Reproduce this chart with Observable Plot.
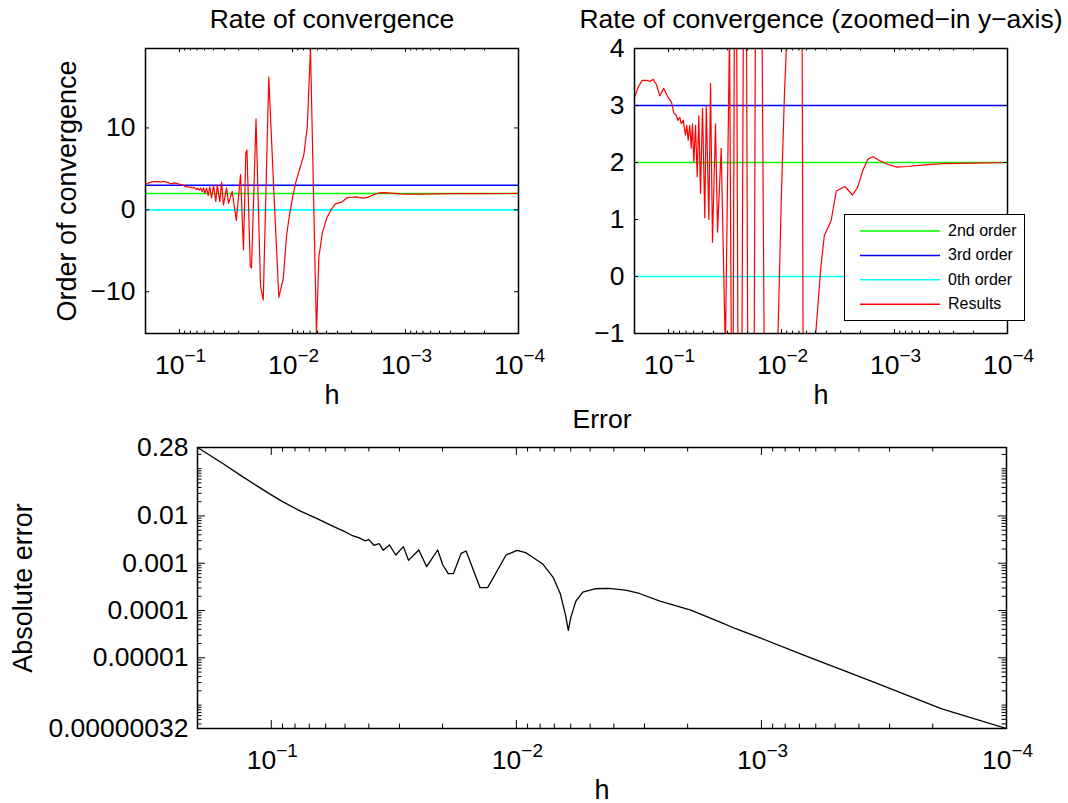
<!DOCTYPE html>
<html>
<head>
<meta charset="utf-8">
<script src="https://cdn.jsdelivr.net/npm/d3@7"></script>
<script src="https://cdn.jsdelivr.net/npm/@observablehq/plot@0.6"></script>
<style>
  body { margin: 0; background: #fff; }
  #fig { position: relative; width: 1068px; height: 803px; background: #fff; font-family: "Liberation Sans", Arial, Helvetica, sans-serif; color: #000; overflow: hidden; }
  #fig > svg { position: absolute; left: 0; top: 0; }
  .legend { position: absolute; border: 1.5px solid #000; background: #fff; box-sizing: border-box; }
  .legend svg { position: absolute; left: 0; top: 0; }
  .legend .tx { position: absolute; left: 103px; font-size: 16px; line-height: 20px; white-space: nowrap; }
</style>
</head>
<body>
<div id="fig"></div>
<script>
// ---------------- data ----------------
// step size h is stored as log10(h); error as log10(|error|)
const orderLogH = [-0.699,-0.734,-0.767,-0.811,-0.834,-0.865,-0.894,-0.923,-0.958,-0.994,
  -1.026,-1.047,-1.071,-1.082,-1.100,-1.112,-1.130,-1.150,-1.162,-1.174,
  -1.188,-1.201,-1.212,-1.224,-1.239,-1.254,-1.268,-1.283,-1.301,-1.321,
  -1.334,-1.357,-1.372,-1.389,-1.416,-1.434,-1.466,-1.503,-1.540,-1.566,
  -1.587,-1.597,-1.626,-1.637,-1.677,-1.717,-1.741,-1.790,-1.834,-1.879,
  -1.918,-1.947,-1.969,-2.000,-2.026,-2.049,-2.100,-2.130,-2.159,-2.212,
  -2.233,-2.263,-2.303,-2.348,-2.379,-2.439,-2.485,-2.522,-2.561,-2.597,
  -2.628,-2.673,-2.719,-2.765,-2.810,-2.871,-2.947,-3.022,-3.113,-3.265,
  -3.416,-3.717,-4.000];
const orderValue = [3.15,3.33,3.44,3.44,3.42,3.46,3.36,3.17,3.30,3.15,
  3.06,2.87,2.82,2.74,2.79,2.68,2.74,2.48,2.65,2.39,
  2.65,2.25,2.68,2.01,2.65,1.75,2.82,1.46,2.95,1.03,
  2.99,1.00,3.39,0.60,2.68,0.78,2.25,-1.30,4.30,-4.90,
  7.00,7.30,-6.90,-7.10,11.10,-9.30,-11.00,16.20,2.50,-10.70,
  -8.40,-3.20,-1.00,1.50,3.20,4.30,6.70,10.00,19.70,-15.10,
  -5.80,-2.90,-1.00,0.16,0.72,0.98,1.50,1.54,1.58,1.50,
  1.43,1.56,1.86,2.06,2.10,2.03,1.96,1.92,1.93,1.96,
  1.98,1.99,2.00];

const errorLogH = [-0.699,-0.807,-0.878,-0.948,-1.000,-1.046,-1.117,-1.187,-1.257,-1.300,
  -1.328,-1.356,-1.384,-1.398,-1.419,-1.440,-1.457,-1.482,-1.508,-1.539,
  -1.560,-1.602,-1.634,-1.679,-1.700,-1.722,-1.743,-1.775,-1.795,-1.852,
  -1.883,-1.958,-2.003,-2.038,-2.053,-2.109,-2.151,-2.180,-2.200,-2.212,
  -2.222,-2.243,-2.271,-2.320,-2.376,-2.446,-2.502,-2.586,-2.712,-2.839,
  -2.895,-3.000,-3.175,-3.456,-3.736,-4.000];
const errorLogValue = [-0.553,-0.906,-1.153,-1.386,-1.555,-1.697,-1.894,-2.056,-2.233,-2.332,
  -2.409,-2.459,-2.529,-2.501,-2.621,-2.586,-2.727,-2.614,-2.826,-2.649,
  -2.939,-2.720,-3.073,-2.720,-3.037,-3.221,-3.221,-2.790,-2.741,-3.517,
  -3.517,-2.826,-2.727,-2.776,-2.826,-3.023,-3.306,-3.658,-4.080,-4.420,
  -4.150,-3.800,-3.610,-3.540,-3.530,-3.570,-3.640,-3.800,-3.990,-4.260,
  -4.385,-4.590,-4.950,-5.510,-6.080,-6.495];

const refOrders = [2, 3, 0];
const refColors = ["#00ff00", "#0000ff", "#00ffff"];
const resultColor = "#ff0000";
const legendLabels = ["2nd order", "3rd order", "0th order", "Results"];

const hDomain = [0.2, 1e-4];
const hMajor = [1e-1, 1e-2, 1e-3, 1e-4];
const orderTicksFull = [-10, 0, 10];
const orderDomainFull = [-15.1, 19.7];
const orderTicksZoom = [-1, 0, 1, 2, 3, 4];
const orderDomainZoom = [-1, 4];
const errTicks = [3.2e-7, 1e-5, 1e-4, 1e-3, 1e-2, 0.28];
const errTickLabels = ["0.00000032", "0.00001", "0.0001", "0.001", "0.01", "0.28"];
const errDomain = [3.2e-7, 0.28];

// ---------------- tables ----------------
const results = orderLogH.map((e, i) => ({h: 10 ** e, p: orderValue[i]}));
const errors = errorLogH.map((e, i) => ({h: 10 ** e, err: 10 ** errorLogValue[i]}));

const hMinor = [];
for (let e = -4; e <= -1; e++) for (let m = 2; m <= 9; m++) {
  const v = m * 10 ** e;
  if (v < 0.2 * 0.999) hMinor.push(v);
}
const errMinor = [];
for (let e = -7; e <= -1; e++) for (let m = 1; m <= 9; m++) {
  const v = m * 10 ** e;
  if (v > errDomain[0] * 1.001 && v < errDomain[1] * 0.999 && !errTicks.some(t => Math.abs(t - v) / v < 1e-6)) errMinor.push(v);
}

// ---------------- helpers ----------------
const W = 1068, H = 803;
const FONT = "'Liberation Sans', Arial, Helvetica, sans-serif";
const TICK_FS = 26.5, LABEL_FS = 27, TITLE_FS = 26.5, EXP_FS = 19;
const fig = document.getElementById("fig");
const ink = {stroke: "black", strokeWidth: 1};

function ticks({xMajor, xMinor, yMajor, yMinor, fw, fh, major, minor}) {
  const m = [
    Plot.tickX(xMajor, {x: d => d, insetTop: fh - major, ...ink}),
    Plot.tickX(xMajor, {x: d => d, insetBottom: fh - major, ...ink}),
    Plot.tickX(xMinor, {x: d => d, insetTop: fh - minor, ...ink}),
    Plot.tickX(xMinor, {x: d => d, insetBottom: fh - minor, ...ink}),
    Plot.tickY(yMajor, {y: d => d, insetRight: fw - major, ...ink}),
    Plot.tickY(yMajor, {y: d => d, insetLeft: fw - major, ...ink})
  ];
  if (yMinor) {
    m.push(Plot.tickY(yMinor, {y: d => d, insetRight: fw - minor, ...ink}));
    m.push(Plot.tickY(yMinor, {y: d => d, insetLeft: fw - minor, ...ink}));
  }
  return m;
}

function powerLabels(values) {
  return [
    Plot.text(values, {x: d => d, frameAnchor: "bottom", text: () => "10", textAnchor: "end", lineAnchor: "bottom", dx: 5, dy: 40, fontSize: TICK_FS}),
    Plot.text(values, {x: d => d, frameAnchor: "bottom", text: d => "\u2212" + Math.round(-Math.log10(d)), textAnchor: "start", lineAnchor: "bottom", dx: 5, dy: 28, fontSize: EXP_FS})
  ];
}

function panel(frame, x, y, marks) {
  const [l, t, r, b] = frame;
  const svg = Plot.plot({
    width: W, height: H,
    marginLeft: l, marginTop: t, marginRight: W - r, marginBottom: H - b,
    x: {...x, axis: null},
    y: {...y, axis: null},
    style: {background: "transparent", fontFamily: FONT, overflow: "visible", maxWidth: "none", position: "absolute", left: "0px", top: "0px"},
    marks
  });
  fig.appendChild(svg);
}

const fmtOrder = d => d < 0 ? "\u2212" + (-d) : String(d);

// ---------------- top-left: rate of convergence ----------------
{
  const frame = [145, 48, 518, 333];
  const fw = frame[2] - frame[0], fh = frame[3] - frame[1];
  panel(frame,
    {type: "log", domain: hDomain},
    {domain: orderDomainFull},
    [
      ...refOrders.map((o, i) => Plot.ruleY([o], {stroke: refColors[i], strokeWidth: 1.6})),
      Plot.line(results, {x: "h", y: "p", stroke: resultColor, strokeWidth: 1.2, clip: true}),
      ...ticks({xMajor: hMajor, xMinor: hMinor, yMajor: orderTicksFull, fw, fh, major: 4, minor: 2.5}),
      ...powerLabels(hMajor),
      Plot.text(orderTicksFull, {y: d => d, frameAnchor: "left", text: fmtOrder, textAnchor: "end", dx: -10, fontSize: TICK_FS}),
      Plot.text(["Rate of convergence"], {frameAnchor: "top", textAnchor: "middle", lineAnchor: "bottom", dy: -21, fontSize: TITLE_FS}),
      Plot.text(["h"], {frameAnchor: "bottom", textAnchor: "middle", lineAnchor: "bottom", dy: 70, fontSize: LABEL_FS}),
      Plot.text(["Order of convergence"], {frameAnchor: "left", textAnchor: "middle", lineAnchor: "middle", rotate: -90, dx: -78, fontSize: LABEL_FS}),
      Plot.frame({stroke: "black", strokeWidth: 1.5})
    ]);
}

// ---------------- top-right: zoomed y-axis ----------------
{
  const frame = [634, 48, 1007, 333];
  const fw = frame[2] - frame[0], fh = frame[3] - frame[1];
  panel(frame,
    {type: "log", domain: hDomain},
    {domain: orderDomainZoom},
    [
      ...refOrders.map((o, i) => Plot.ruleY([o], {stroke: refColors[i], strokeWidth: 1.6})),
      Plot.line(results, {x: "h", y: "p", stroke: resultColor, strokeWidth: 1.2, clip: true}),
      ...ticks({xMajor: hMajor, xMinor: hMinor, yMajor: orderTicksZoom, fw, fh, major: 4, minor: 2.5}),
      ...powerLabels(hMajor),
      Plot.text(orderTicksZoom, {y: d => d, frameAnchor: "left", text: fmtOrder, textAnchor: "end", dx: -10, fontSize: TICK_FS}),
      Plot.text(["Rate of convergence (zoomed\u2212in y\u2212axis)"], {frameAnchor: "top", textAnchor: "middle", lineAnchor: "bottom", dy: -21, fontSize: TITLE_FS}),
      Plot.text(["h"], {frameAnchor: "bottom", textAnchor: "middle", lineAnchor: "bottom", dy: 70, fontSize: LABEL_FS}),
      Plot.frame({stroke: "black", strokeWidth: 1.5})
    ]);
}

// ---------------- bottom: error ----------------
{
  const frame = [197, 447, 1006, 728];
  const fw = frame[2] - frame[0], fh = frame[3] - frame[1];
  panel(frame,
    {type: "log", domain: hDomain},
    {type: "log", domain: errDomain},
    [
      Plot.line(errors, {x: "h", y: "err", stroke: "black", strokeWidth: 1.3, clip: true}),
      ...ticks({xMajor: hMajor, xMinor: hMinor, yMajor: errTicks, yMinor: errMinor, fw, fh, major: 8, minor: 4.5}),
      ...powerLabels(hMajor),
      Plot.text(errTicks, {y: d => d, frameAnchor: "left", text: (d, i) => errTickLabels[i], textAnchor: "end", dx: -9, fontSize: TICK_FS}),
      Plot.text(["Error"], {frameAnchor: "top", textAnchor: "middle", lineAnchor: "bottom", dy: -20, fontSize: TITLE_FS}),
      Plot.text(["h"], {frameAnchor: "bottom", textAnchor: "middle", lineAnchor: "bottom", dy: 70, fontSize: LABEL_FS}),
      Plot.text(["Absolute error"], {frameAnchor: "left", textAnchor: "middle", lineAnchor: "middle", rotate: -90, dx: -174, fontSize: LABEL_FS}),
      Plot.frame({stroke: "black", strokeWidth: 1.5})
    ]);
}

// ---------------- legend (top-right panel) ----------------
{
  const box = document.createElement("div");
  box.className = "legend";
  const bw = 181, bh = 107;
  Object.assign(box.style, {left: "844px", top: "214px", width: bw + "px", height: bh + "px"});
  const colors = [...refColors, resultColor];
  const svg = d3.create("svg").attr("width", bw).attr("height", bh);
  legendLabels.forEach((lab, i) => {
    const cy = 16 + i * 24.4;
    svg.append("line").attr("x1", 15).attr("x2", 95).attr("y1", cy).attr("y2", cy)
      .attr("stroke", colors[i]).attr("stroke-width", 1.5);
    const tx = document.createElement("div");
    tx.className = "tx";
    tx.style.top = (cy - 10) + "px";
    tx.textContent = lab;
    box.appendChild(tx);
  });
  box.insertBefore(svg.node(), box.firstChild);
  fig.appendChild(box);
}
</script>
</body>
</html>
